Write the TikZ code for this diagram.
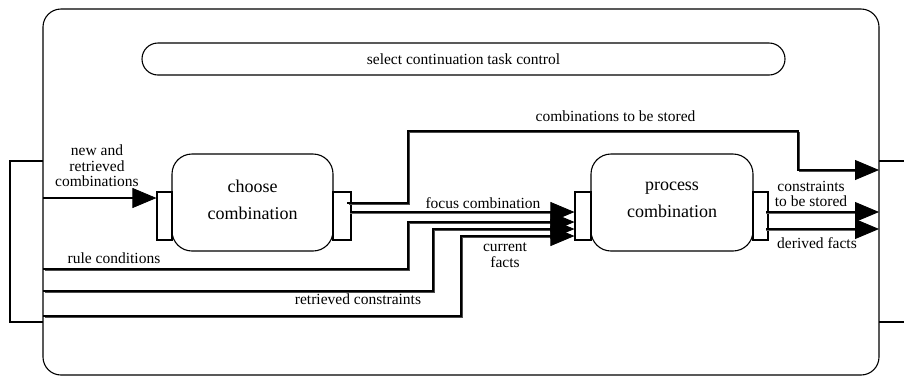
\documentclass[tikz,border=0pt]{standalone}
\usepackage{fontspec}
\setmainfont{Liberation Serif}
\usetikzlibrary{arrows.meta,calc}
\tikzset{
  box/.style={draw, line width=1.1pt, rounded corners=20pt},
  port/.style={draw, line width=1.1pt, fill=white},
  lbl/.style={font=\fontsize{15.5}{15.5}\selectfont, align=center, inner sep=0pt},
  boxtxt/.style={font=\fontsize{18}{27}\selectfont, align=center, inner sep=0pt},
  flow/.style={line width=1.7pt, shorten >=20pt},
  flowback/.style={line width=0.7pt, black!70, shorten >=20pt, transform canvas={shift={(1.7pt,-1.7pt)}}},
  thinflow/.style={line width=1.1pt, shorten >=20pt},
  thinback/.style={line width=0.6pt, black!60, shorten >=20pt, transform canvas={shift={(0pt,-1.5pt)}}},
  plain/.style={line width=1.3pt, shorten >=20pt},
  bigarrow/.style={line width=0.8pt, -{Triangle[length=24pt,width=20pt]}}
}
\newcommand{\arrowinto}[1]{\draw[bigarrow] ($(#1)+(-25,0)$) -- (#1);}
\newcommand{\flowline}[1]{\draw[flowback] #1; \draw[flow] #1;}
\newcommand{\thinline}[1]{\draw[thinback] #1; \draw[thinflow] #1;}
\begin{document}
\begin{tikzpicture}[x=1pt,y=-1pt]
\useasboundingbox (0,0) rectangle (904,376);
% outer frame
\draw[line width=1.1pt, rounded corners=18pt] (43,9) rectangle (879,375);
% external rectangles
\draw[line width=1.1pt] (43,161) -- (10,161) -- (10,322) -- (43,322);
\draw[line width=1.1pt] (879,161) -- (910,161);
\draw[line width=1.1pt] (879,322) -- (910,322);
% task control
\node[draw, line width=1.1pt, rounded corners=16pt, minimum width=643pt, minimum height=32pt,
      font=\fontsize{15.5}{15.5}\selectfont] (ctrl) at (463.5,59) {select continuation task control};
% choose combination
\draw[box] (172,154) rectangle (333,251);
\node[boxtxt] (choose) at (252.5,199.5) {choose\\combination};
\node[port, minimum width=15pt, minimum height=48pt, inner sep=0pt] (cin) at (164.5,216) {};
\node[port, minimum width=18pt, minimum height=48pt, inner sep=0pt] (cout) at (342,216) {};
% process combination
\draw[box] (591,154) rectangle (753,251);
\node[boxtxt] (process) at (672,200) {process\\combination};
\node[port, minimum width=16pt, minimum height=48pt, inner sep=0pt] (pin) at (583,216) {};
\node[port, minimum width=15pt, minimum height=48pt, inner sep=0pt] (pout) at (760.5,216) {};
% coordinates
\coordinate (n0) at (43,198);
\coordinate (n1) at (cin.west |- n0);
\coordinate (s0) at (347,203);
\coordinate (s1) at (408,203);
\coordinate (s2) at (408,131);
\coordinate (s3) at (798,131);
\coordinate (s4) at (798,170);
\coordinate (s5) at (879,170);
\coordinate (f0) at (350,212);
\coordinate (f1) at (pin.west |- f0);
\coordinate (r0) at (43,269);
\coordinate (r1) at (408,269);
\coordinate (r2) at (408,222);
\coordinate (r3) at (pin.west |- r2);
\coordinate (t0) at (43,291);
\coordinate (t1) at (433,291);
\coordinate (t2) at (433,229);
\coordinate (t3) at (pin.west |- t2);
\coordinate (c0) at (43,316);
\coordinate (c1) at (461,316);
\coordinate (c2) at (461,236);
\coordinate (c3) at (pin.west |- c2);
\coordinate (k0) at (766,212);
\coordinate (k1) at (879,212);
\coordinate (d0) at (766,229);
\coordinate (d1) at (879,229);
% connectors
\draw[plain] (n0) -- (n1);
\flowline{(s0) -- (s1) -- (s2) -- (s3) -- (s4) -- (s5)}
\thinline{(f0) -- (f1)}
\flowline{(r0) -- (r1) -- (r2) -- (r3)}
\flowline{(t0) -- (t1) -- (t2) -- (t3)}
\flowline{(c0) -- (c1) -- (c2) -- (c3)}
\thinline{(k0) -- (k1)}
\thinline{(d0) -- (d1)}
\arrowinto{n1}
\arrowinto{s5}
\arrowinto{f1}
\arrowinto{r3}
\arrowinto{t3}
\arrowinto{c3}
\arrowinto{k1}
\arrowinto{d1}
% labels
\node[lbl] (lnew) at (97,166) {new and\\retrieved\\combinations};
\node[lbl] (lstore) at (615.5,116) {combinations to be stored};
\node[lbl] (lfocus) at (483,203) {focus combination};
\node[lbl] (lrule) at (114,258) {rule conditions};
\node[lbl] (lret) at (358,299) {retrieved constraints};
\node[lbl] (lcur) at (505,255) {current\\facts};
\node[lbl] (lcons) at (811,194) {constraints\\to be stored};
\node[lbl] (lder) at (817,243) {derived facts};
\end{tikzpicture}
\end{document}
